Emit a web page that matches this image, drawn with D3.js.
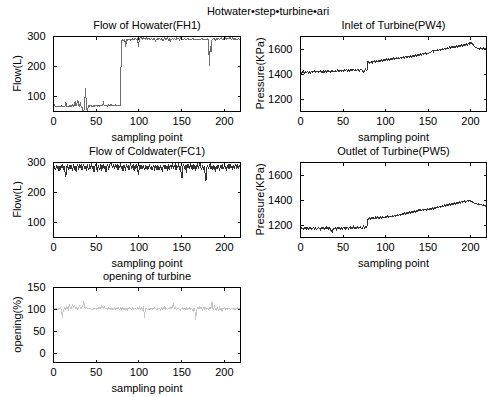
<!DOCTYPE html>
<html>
<head>
<meta charset="utf-8">
<script src="https://cdn.jsdelivr.net/npm/d3@7"></script>
<style>
html,body{margin:0;padding:0;background:#fff;}
svg{display:block;font-family:"Liberation Sans",Arial,sans-serif;}
text{fill:#000;}
</style>
</head>
<body>
<svg id="chart" width="487" height="397"></svg>
<script>
// ---- data ----
const mainTitle = "Hotwater•step•turbine•ari";
const xTicks = [0, 50, 100, 150, 200];

const flowHotwater = [
92,74,68,66,65,66,64,65,66,65,
67,65,66,64,65,78,66,65,66,67,
65,68,66,72,67,70,82,66,74,88,
70,67,75,66,62,52,48,70,126,74,
47,62,70,66,68,67,65,66,68,66,
67,68,66,69,67,66,68,67,70,78,
68,67,69,68,66,70,68,67,72,68,
67,69,68,70,67,68,69,70,68,69,
286,287,285,286,288,265,287,286,288,287,
289,286,288,290,287,289,292,290,288,291,
262,290,293,298,291,289,296,292,290,294,
291,289,293,290,288,292,289,287,291,290,
283,289,291,288,293,290,287,291,289,284,
292,294,289,288,296,287,291,282,289,290,
293,288,291,289,286,294,290,292,288,293,
289,291,287,290,292,289,288,290,291,289,
290,288,289,290,291,289,288,290,289,288,
289,290,288,289,291,290,289,288,290,289,
288,290,285,200,268,246,286,289,292,290,
287,291,289,293,290,288,291,294,290,289,
292,291,295,289,293,290,292,297,291,289,
293,290,289,291,288,290,289,291,290,288
];

const inletPW4 = [
1405,1412,1400,1410,1418,1404,1415,1402,1411,1416,
1406,1414,1401,1412,1419,1407,1415,1421,1408,1417,
1410,1419,1406,1415,1423,1409,1418,1407,1421,1412,
1420,1413,1424,1411,1422,1417,1410,1421,1425,1414,
1422,1412,1424,1416,1426,1414,1424,1417,1428,1418,
1426,1419,1430,1420,1428,1434,1421,1430,1420,1431,
1422,1432,1424,1433,1425,1430,1421,1429,1434,1424,
1420,1430,1436,1425,1418,1410,1426,1434,1422,1430,
1498,1490,1482,1488,1496,1484,1498,1490,1502,1492,
1503,1494,1505,1496,1507,1498,1509,1499,1511,1502,
1513,1504,1515,1506,1517,1508,1519,1510,1521,1512,
1522,1513,1524,1515,1526,1517,1528,1519,1530,1521,
1531,1523,1533,1525,1536,1527,1538,1529,1540,1531,
1541,1533,1543,1534,1546,1537,1548,1540,1551,1543,
1554,1545,1557,1548,1560,1551,1563,1555,1566,1557,
1562,1558,1568,1562,1572,1580,1585,1575,1587,1579,
1588,1580,1591,1583,1594,1586,1596,1588,1599,1591,
1601,1593,1604,1595,1607,1598,1610,1601,1613,1604,
1615,1606,1618,1609,1621,1612,1624,1615,1627,1618,
1630,1621,1633,1624,1636,1627,1639,1629,1643,1634,
1647,1637,1644,1631,1628,1617,1612,1606,1605,1600,
1602,1596,1605,1595,1601,1594,1603,1597,1594,1600
];

const flowColdwater = [
285,276,284,272,290,278,286,270,288,277,
284,292,274,287,266,250,282,289,272,286,
277,290,280,270,292,278,287,268,285,291,
275,288,279,294,272,286,290,276,287,269,
292,279,273,289,281,295,276,288,268,286,
291,277,272,288,280,275,293,271,286,290,
276,287,266,284,292,274,288,296,300,286,
281,294,276,289,282,292,272,290,279,296,
277,288,269,291,282,275,294,279,289,272,
287,293,276,286,290,271,288,279,292,275,
256,284,289,276,287,279,291,272,286,277,
288,275,285,290,277,287,273,284,288,276,
286,278,289,273,285,276,287,278,271,286,
290,277,288,281,275,292,273,286,290,278,
295,276,287,292,272,289,279,296,274,288,
260,246,286,292,277,289,265,294,281,290,
276,297,282,272,292,278,290,270,288,294,
277,289,300,281,273,291,278,287,262,238,
280,290,276,288,293,277,286,273,290,279,
272,287,277,290,281,274,289,278,292,276,
282,291,278,273,288,280,292,277,289,282,
276,290,279,288,293,277,287,280,289,282
];

const outletPW5 = [
1172,1166,1178,1168,1162,1174,1167,1177,1164,1172,
1162,1171,1179,1166,1160,1171,1176,1163,1173,1165,
1161,1172,1178,1166,1158,1173,1179,1164,1174,1161,
1170,1181,1165,1176,1162,1172,1158,1146,1138,1164,
1174,1166,1178,1159,1171,1179,1166,1175,1162,1174,
1165,1177,1168,1181,1162,1174,1179,1166,1176,1183,
1168,1179,1167,1185,1170,1165,1177,1168,1181,1171,
1178,1185,1172,1162,1180,1188,1170,1182,1174,1188,
1240,1248,1254,1243,1251,1257,1246,1255,1245,1258,
1249,1260,1250,1258,1248,1260,1252,1262,1253,1261,
1254,1264,1256,1266,1257,1268,1259,1270,1261,1272,
1264,1274,1266,1277,1268,1279,1271,1282,1274,1285,
1277,1288,1280,1291,1283,1294,1286,1297,1289,1300,
1292,1302,1294,1305,1297,1308,1300,1310,1302,1314,
1320,1308,1317,1310,1320,1312,1322,1314,1324,1316,
1326,1318,1328,1320,1330,1322,1333,1325,1336,1328,
1339,1331,1342,1334,1345,1337,1348,1340,1352,1343,
1355,1347,1358,1349,1361,1352,1364,1355,1367,1358,
1370,1360,1373,1363,1376,1366,1379,1370,1382,1373,
1385,1376,1388,1378,1390,1380,1386,1392,1384,1394,
1397,1386,1386,1378,1379,1371,1372,1366,1367,1360,
1366,1358,1359,1357,1356,1350,1358,1348,1350,1343
];

const openingTurbine = [
101,100,102,99,101,100,98,102,100,103,
94,80,99,101,103,100,105,102,99,110,
104,101,106,112,102,108,104,101,103,100,
102,107,103,101,104,109,117,105,102,104,
101,103,100,102,101,99,100,98,101,100,
102,99,101,103,100,104,102,108,103,101,
106,101,100,102,99,103,101,100,102,98,
101,100,103,99,102,100,104,101,99,102,
100,103,101,99,102,100,101,98,102,100,
103,101,99,102,100,101,103,100,98,102,
100,104,99,101,103,96,107,80,100,102,
100,99,101,100,100,102,99,101,100,103,
101,100,99,102,100,101,98,102,100,104,
101,106,100,102,99,101,103,100,104,102,
106,113,101,103,100,99,102,101,100,98,
101,100,103,99,101,100,102,98,101,100,
103,99,101,100,94,102,99,76,97,103,
101,106,100,104,102,98,103,100,105,101,
99,102,100,103,101,104,117,102,100,106,
101,98,103,100,96,103,99,101,94,102,
100,103,99,101,100,102,100,101,99,102,
101,100,102,99,101,100,103,101,100,102
];

const panels = [
  {title:"Flow of Howater(FH1)", ylabel:"Flow(L)", data:flowHotwater, yDomain:[50,300], yTicks:[100,200,300], color:"#6e6e6e", col:0, row:0},
  {title:"Inlet of Turbine(PW4)", ylabel:"Pressure(KPa)", data:inletPW4, yDomain:[1100,1700], yTicks:[1200,1400,1600], color:"#333333", col:1, row:0},
  {title:"Flow of Coldwater(FC1)", ylabel:"Flow(L)", data:flowColdwater, yDomain:[50,300], yTicks:[100,200,300], color:"#333333", col:0, row:1},
  {title:"Outlet of Turbine(PW5)", ylabel:"Pressure(KPa)", data:outletPW5, yDomain:[1100,1700], yTicks:[1200,1400,1600], color:"#333333", col:1, row:1},
  {title:"opening of turbine", ylabel:"opening(%)", data:openingTurbine, yDomain:[-20,150], yTicks:[0,50,100,150], color:"#c8c8c8", col:0, row:2}
];

// ---- layout ----
const colX = [[53,241],[300,487]];
const rowY = [[36,111],[162,237],[287,362]];
const ylabelX = [21, 264];
const fontSize = 11;

const svg = d3.select("#chart");

svg.append("text")
  .attr("x", 268).attr("y", 15)
  .attr("text-anchor","middle")
  .attr("font-size", fontSize)
  .text(mainTitle);

panels.forEach(p => {
  const [x0,x1] = colX[p.col];
  const [y0,y1] = rowY[p.row];
  const x = d3.scaleLinear().domain([0,220]).range([x0,x1]);
  const y = d3.scaleLinear().domain(p.yDomain).range([y1,y0]);
  const g = svg.append("g");

  const cid = "clip"+p.col+p.row;
  svg.append("clipPath").attr("id",cid).append("rect")
    .attr("x",x0).attr("y",y0).attr("width",x1-x0).attr("height",y1-y0);

  const line = d3.line().x((d,i)=>x(i)).y(d=>y(d));
  g.append("path")
    .datum(p.data)
    .attr("clip-path","url(#"+cid+")")
    .attr("fill","none")
    .attr("stroke",p.color)
    .attr("stroke-width",1)
    .attr("shape-rendering","crispEdges")
    .attr("d",line);

  const tickLen = 3;
  const bottom = g.append("g").attr("transform","translate(0,"+(y1+0.5)+")")
    .call(d3.axisBottom(x).tickValues(xTicks).tickSize(-tickLen).tickPadding(tickLen+3).tickFormat(d3.format("d")));
  const top = g.append("g").attr("transform","translate(0,"+(y0+0.5)+")")
    .call(d3.axisTop(x).tickValues(xTicks).tickSize(-tickLen).tickFormat(""));
  const left = g.append("g").attr("transform","translate("+(x0+0.5)+",0)")
    .call(d3.axisLeft(y).tickValues(p.yTicks).tickSize(-tickLen).tickPadding(tickLen+5).tickFormat(d3.format("d")));
  const right = g.append("g").attr("transform","translate("+(x1-0.5)+",0)")
    .call(d3.axisRight(y).tickValues(p.yTicks).tickSize(-tickLen).tickFormat(""));
  [bottom,top,left,right].forEach(a=>{
    a.select(".domain").remove();
    a.selectAll("line").attr("stroke","#000").attr("shape-rendering","crispEdges");
    a.selectAll("text").attr("font-size",fontSize).attr("font-family","Liberation Sans, Arial, sans-serif").attr("fill","#000");
  });

  g.append("rect")
    .attr("x",x0+0.5).attr("y",y0+0.5)
    .attr("width",x1-x0-1).attr("height",y1-y0)
    .attr("fill","none").attr("stroke","#000").attr("stroke-width",1)
    .attr("shape-rendering","crispEdges");

  g.append("text")
    .attr("x",(x0+x1)/2).attr("y",y0-7.5)
    .attr("text-anchor","middle").attr("font-size",fontSize)
    .text(p.title);

  g.append("text")
    .attr("x",(x0+x1)/2).attr("y",y1+29.5)
    .attr("text-anchor","middle").attr("font-size",fontSize)
    .text("sampling point");

  g.append("text")
    .attr("transform","translate("+ylabelX[p.col]+","+((y0+y1)/2)+") rotate(-90)")
    .attr("text-anchor","middle").attr("font-size",fontSize)
    .text(p.ylabel);
});
</script>
</body>
</html>
